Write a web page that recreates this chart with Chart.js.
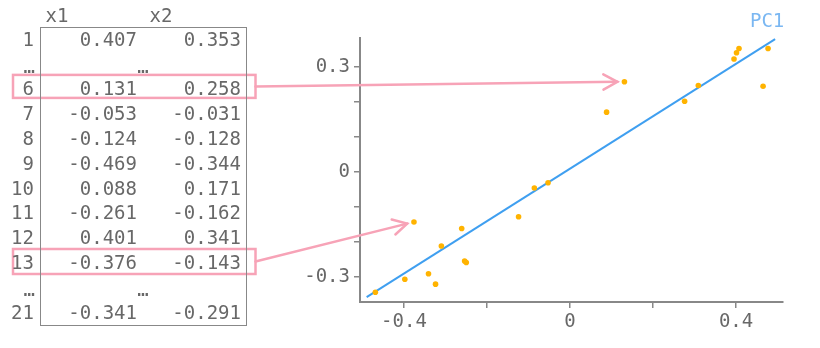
<!DOCTYPE html>
<html>
<head>
<meta charset="utf-8">
<script src="https://cdn.jsdelivr.net/npm/chart.js@4.4.0/dist/chart.umd.min.js"></script>
<style>
html, body { margin: 0; padding: 0; background: #fff; }
#wrap { position: relative; width: 820px; height: 348px; overflow: hidden; }
#myChart { position: absolute; left: 0; top: 0; }
.t { position: absolute; font-family: 'DejaVu Sans Mono', monospace; font-size: 19px; color: #686868;
     height: 25px; line-height: 25px; white-space: pre; }
#box { position: absolute; left: 40px; top: 27px; width: 207px; height: 299px;
       border: 1.5px solid #888; box-sizing: border-box; }
</style>
</head>
<body>
<div id="wrap">
  <canvas id="myChart" width="820" height="348"></canvas>
  <div id="box"></div>
  <div id="tbl"></div>
</div>
<script>
// rows shown in the table
var rowIds = [1, 6, 7, 8, 9, 10, 11, 12, 13, 21];
var x1 = [0.407, 0.131, -0.053, -0.124, -0.469, 0.088, -0.261, 0.401, -0.376, -0.341];
var x2 = [0.353, 0.258, -0.031, -0.128, -0.344, 0.171, -0.162, 0.341, -0.143, -0.291];
// remaining points (rows 2-5, 14-20)
var otherX = [-0.398, -0.324, -0.310, -0.254, -0.250, -0.086, 0.276, 0.309, 0.395, 0.477, 0.465];
var otherY = [-0.307, -0.321, -0.212, -0.255, -0.259, -0.046, 0.202, 0.247, 0.323, 0.353, 0.245];
// first principal component line
var pc1X = [-0.49, 0.494];
var pc1Y = [-0.358, 0.38];
var pc1Label = 'PC1';
// axes
var xTicks = [-0.4, -0.2, 0, 0.2, 0.4];
var xTickLabels = ['-0.4', '', '0', '', '0.4'];
var yTicks = [-0.3, -0.2, -0.1, 0, 0.1, 0.2, 0.3];
var yTickLabels = ['-0.3', '', '', '0', '', '', '0.3'];
var colHeaders = ['x1', 'x2'];
var arrowRows = [6, 13];

var FONT = "'DejaVu Sans Mono', monospace";
var TEXT = '#686868';
var PINK = '#f7a3b7';

// ---- table (html text) ----
var tbl = document.getElementById('tbl');
function put(txt, left, width, top, align) {
  var d = document.createElement('div');
  d.className = 't';
  d.textContent = txt;
  d.style.left = left + 'px';
  d.style.width = width + 'px';
  d.style.top = top + 'px';
  d.style.textAlign = align;
  tbl.appendChild(d);
}
put(colHeaders[0], 30, 54, 2.5, 'center');
put(colHeaders[1], 134, 54, 2.5, 'center');

// slots: row 1, ..., rows 6-13, ..., row 21
var slots = [0];
slots.push(null);
for (var i = 1; i < rowIds.length - 1; i++) slots.push(i);
slots.push(null);
slots.push(rowIds.length - 1);

var rowTops = {};
slots.forEach(function(s, k) {
  var top = 26.8 + 24.8 * k;
  if (s === null) {
    put('\u2026', 0, 35, top + 2, 'right');
    put('\u2026', 43, 200, top + 2, 'center');
  } else {
    put(String(rowIds[s]), 0, 34, top, 'right');
    put(x1[s].toFixed(3), 40, 97, top, 'right');
    put(x2[s].toFixed(3), 140, 101, top, 'right');
    rowTops[rowIds[s]] = top;
  }
});

// ---- chart ----
var points = x1.concat(otherX).map(function(v, i) {
  return { x: v, y: x2.concat(otherY)[i] };
});
var pc1 = pc1X.map(function(v, i) { return { x: v, y: pc1Y[i] }; });

var annot = {
  id: 'annot',
  afterDraw: function(chart) {
    var c = chart.ctx, xs = chart.scales.x, ys = chart.scales.y;
    c.save();
    // PC1 label
    var ex = xs.getPixelForValue(pc1X[1]), ey = ys.getPixelForValue(pc1Y[1]);
    c.fillStyle = '#7ab7f2';
    c.font = '19px ' + FONT;
    c.textAlign = 'center';
    c.textBaseline = 'middle';
    c.fillText(pc1Label, ex - 8, ey - 17);

    // highlighted rows and arrows
    c.strokeStyle = PINK;
    c.lineWidth = 2.5;
    c.lineCap = 'round';
    arrowRows.forEach(function(r) {
      var idx = rowIds.indexOf(r);
      var top = rowTops[r] + (r === 6 ? -1.5 : -1);
      var h = r === 6 ? 23 : 25;
      c.strokeRect(13, top, 242.5, h);
      var sx = 255.5, sy = top + h / 2;
      var px = xs.getPixelForValue(x1[idx]), py = ys.getPixelForValue(x2[idx]);
      var ang = Math.atan2(py - sy, px - sx);
      var tx = px - 7 * Math.cos(ang), ty = py - 7 * Math.sin(ang);
      c.beginPath();
      c.moveTo(sx, sy);
      c.lineTo(tx, ty);
      c.stroke();
      c.beginPath();
      c.moveTo(tx - 16 * Math.cos(ang - 0.5), ty - 16 * Math.sin(ang - 0.5));
      c.lineTo(tx, ty);
      c.lineTo(tx - 16 * Math.cos(ang + 0.5), ty - 16 * Math.sin(ang + 0.5));
      c.stroke();
    });
    c.restore();
  }
};

var ctx = document.getElementById('myChart').getContext('2d');
new Chart(ctx, {
  type: 'scatter',
  data: {
    datasets: [{
      data: points,
      backgroundColor: '#ffb300',
      borderWidth: 0,
      pointRadius: 2.8,
      order: 1
    }, {
      data: pc1,
      showLine: true,
      borderColor: '#3f9ff0',
      borderWidth: 2,
      pointRadius: 0,
      fill: false,
      order: 2
    }]
  },
  options: {
    responsive: false,
    animation: false,
    layout: { padding: { top: 38, right: 37, left: 0, bottom: 0 } },
    plugins: { legend: { display: false }, tooltip: { enabled: false } },
    scales: {
      x: {
        type: 'linear',
        min: -0.506,
        max: 0.513,
        afterBuildTicks: function(axis) {
          axis.ticks = xTicks.map(function(v) { return { value: v }; });
        },
        afterFit: function(scale) { scale.height = 46; },
        grid: { drawOnChartArea: false, drawTicks: true, tickLength: 6, color: '#888', lineWidth: 1.5 },
        border: { display: true, color: '#888', width: 2 },
        ticks: {
          autoSkip: false,
          maxRotation: 0,
          padding: 3,
          color: TEXT,
          font: { family: FONT, size: 19 },
          callback: function(value, index) { return xTickLabels[index]; }
        }
      },
      y: {
        type: 'linear',
        min: -0.372,
        max: 0.383,
        afterBuildTicks: function(axis) {
          axis.ticks = yTicks.map(function(v) { return { value: v }; });
        },
        afterFit: function(scale) { scale.width = 360; },
        grid: { drawOnChartArea: false, drawTicks: true, tickLength: 6, color: '#888', lineWidth: 1.5 },
        border: { display: true, color: '#888', width: 2 },
        ticks: {
          autoSkip: false,
          padding: 4,
          color: TEXT,
          font: { family: FONT, size: 19 },
          callback: function(value, index) { return yTickLabels[index]; }
        }
      }
    }
  },
  plugins: [annot]
});
</script>
</body>
</html>
